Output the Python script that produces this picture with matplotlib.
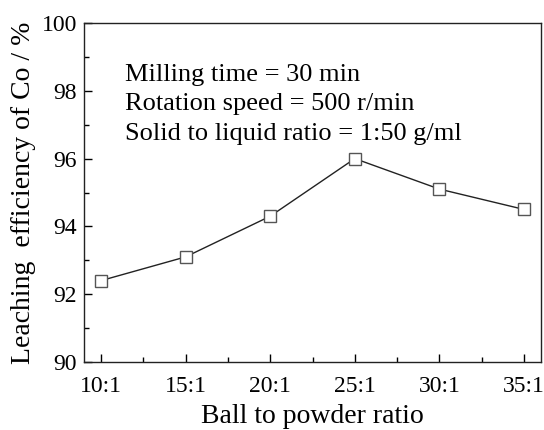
import matplotlib
matplotlib.use("Agg")
import matplotlib.pyplot as plt
from matplotlib.ticker import MultipleLocator, FixedLocator

plt.rcParams['font.family'] = ['Liberation Serif', 'DejaVu Serif']
plt.rcParams['mathtext.fontset'] = 'stix'

categories = ["10:1", "15:1", "20:1", "25:1", "30:1", "35:1"]
efficiency = [92.4, 93.1, 94.3, 96.0, 95.1, 94.5]
yticks = [90, 92, 94, 96, 98, 100]

fig = plt.figure(figsize=(5.44, 4.30), dpi=100)
ax = fig.add_axes([84/544, 1-362/430, (541-84)/544, (362-23)/430])

x = list(range(len(categories)))
ax.plot(x, efficiency, color='#222222', lw=1.0, marker='s', ms=8,
        mfc='white', mec='#555555', mew=1.0)

ax.set_xlim(-0.2, 5.2)
ax.set_ylim(90, 100)
ax.set_xticks(x)
ax.set_xticklabels(categories)
ax.set_yticks(yticks)
ax.xaxis.set_minor_locator(FixedLocator([i + 0.5 for i in x[:-1]]))
ax.yaxis.set_minor_locator(MultipleLocator(1))
ax.tick_params(which='both', direction='in', top=False, right=False, labelsize=17)
ax.tick_params(which='major', length=6, width=1)
ax.tick_params(which='minor', length=3.5, width=1)
ax.tick_params(axis='x', pad=10)
ax.tick_params(axis='y', pad=5)
for s in ax.spines.values():
    s.set_linewidth(1.0)
    s.set_color('#222222')

ax.set_xlabel("Ball to powder ratio", fontsize=20, labelpad=5)
ax.set_ylabel("Leaching  efficiency of Co / %", fontsize=20, labelpad=4)

ax.text(0.09, 0.88, "Milling time = 30 min\nRotation speed = 500 r/min\nSolid to liquid ratio = 1:50 g/ml",
        transform=ax.transAxes, fontsize=19, va='top', ha='left', linespacing=1.45)

fig.savefig("out.png", dpi=100)
